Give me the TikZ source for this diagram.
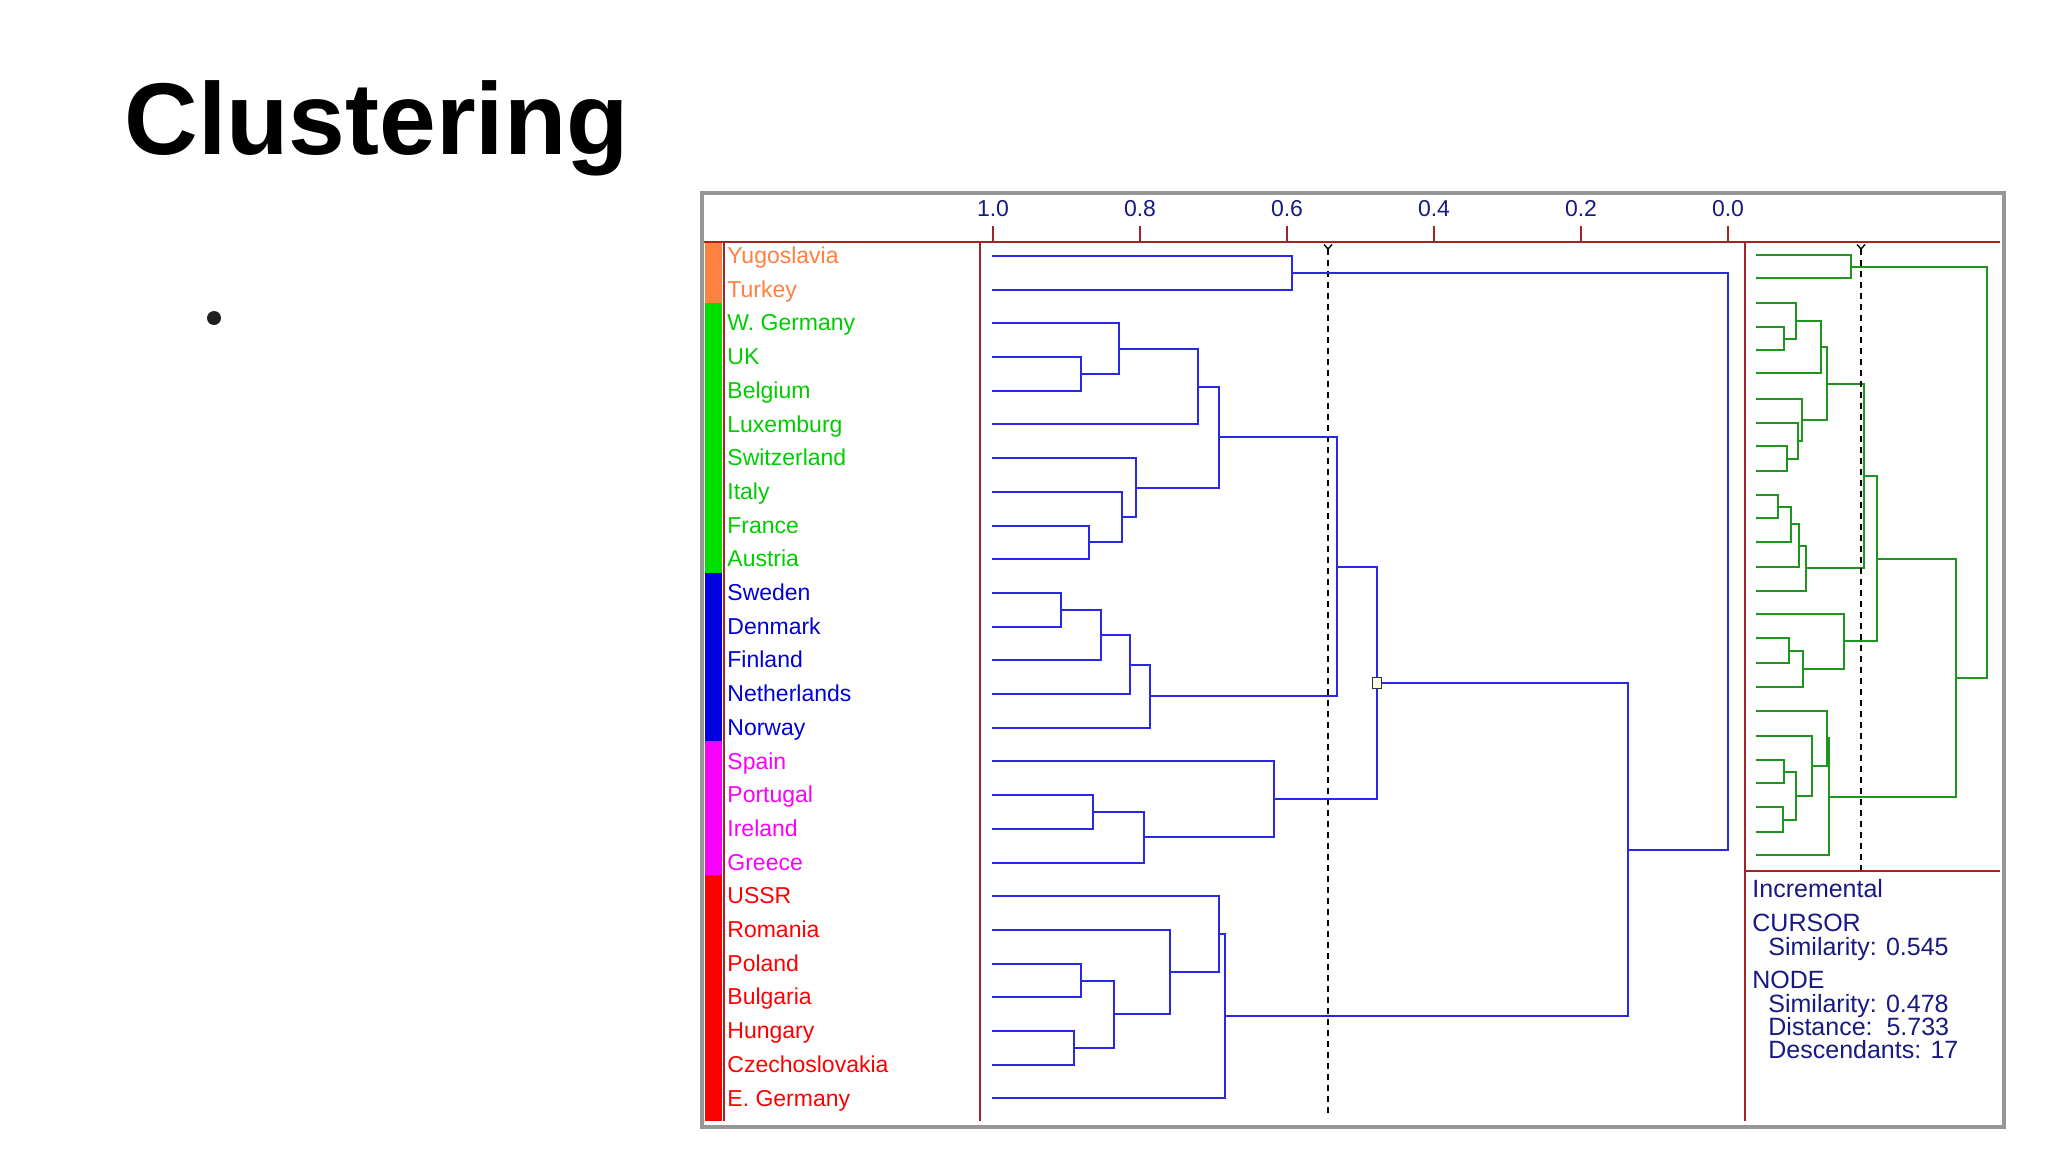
\documentclass[tikz,border=0pt]{standalone}
\usepackage{fontspec}
\setmainfont{Liberation Sans}
\definecolor{corange}{RGB}{255,128,64}
\definecolor{cgreen}{RGB}{0,205,0}
\definecolor{sgreen}{RGB}{0,222,0}
\definecolor{cblue}{RGB}{0,0,215}
\definecolor{sblue}{RGB}{0,0,225}
\definecolor{cmag}{RGB}{250,0,250}
\definecolor{cred}{RGB}{255,0,0}
\definecolor{navy}{RGB}{25,25,130}
\definecolor{dblue}{RGB}{40,40,230}
\definecolor{dgreen}{RGB}{30,150,30}
\definecolor{axred}{RGB}{165,35,35}
\definecolor{framegray}{RGB}{150,150,150}
\tikzset{
  lab/.style={anchor=base west, inner sep=0pt, font=\fontsize{11.5}{13}\selectfont},
  ticklab/.style={anchor=base, inner sep=0pt, text=navy, font=\fontsize{11.5}{13}\selectfont},
  info/.style={anchor=base west, inner sep=0pt, text=navy, font=\fontsize{12.5}{14}\selectfont},
  bl/.style={draw=dblue, line width=1pt},
  gl/.style={draw=dgreen, line width=1pt},
  redl/.style={draw=axred, line width=0.75pt},
  cur/.style={draw=black, line width=0.7pt, dash pattern=on 3pt off 2.5pt},
  curmark/.style={draw=black, line width=0.7pt},
}
\begin{document}
\begin{tikzpicture}[x=0.5pt,y=-0.5pt]
\useasboundingbox (0,0) rectangle (2048,1152);
\fill[white] (0,0) rectangle (2048,1152);

% title and bullet
\node[anchor=base west, inner sep=0pt, font=\fontsize{51}{60}\selectfont\bfseries] (title) at (124,154) {Clustering};
\node[circle, fill=black!88, minimum size=7pt, inner sep=0pt] (bullet) at (214,318) {};

% frame
\draw[draw=framegray, line width=1.75pt] (702,193) rectangle (2004,1127);

% colour strip
\fill[corange] (705,242) rectangle (722,303);
\fill[sgreen] (705,303) rectangle (722,573);
\fill[sblue] (705,573) rectangle (722,741);
\fill[cmag] (705,741) rectangle (722,875);
\fill[cred] (705,875) rectangle (722,1121);

% axis and panel lines
\draw[redl] (704,242) -- (2000,242);
\draw[redl] (724,242) -- (724,1121);
\draw[redl] (980,242) -- (980,1121);
\draw[redl] (1745,242) -- (1745,1121);
\draw[redl] (1745,871) -- (2000,871);

% ticks and tick labels
\foreach \v/\t in {1/1.0, 0.8/0.8, 0.6/0.6, 0.4/0.4, 0.2/0.2, 0/0.0} {
  \draw[redl] ({1728-735*\v},226) -- ({1728-735*\v},242);
  \node[ticklab] (tick\t) at ({1728-735*\v},216) {\t};
}

% leaf labels and leaf coordinates (left)
\foreach \i/\name/\col in {0/Yugoslavia/corange, 1/Turkey/corange,
  2/W. Germany/cgreen, 3/UK/cgreen, 4/Belgium/cgreen, 5/Luxemburg/cgreen,
  6/Switzerland/cgreen, 7/Italy/cgreen, 8/France/cgreen, 9/Austria/cgreen,
  10/Sweden/cblue, 11/Denmark/cblue, 12/Finland/cblue, 13/Netherlands/cblue, 14/Norway/cblue,
  15/Spain/cmag, 16/Portugal/cmag, 17/Ireland/cmag, 18/Greece/cmag,
  19/USSR/cred, 20/Romania/cred, 21/Poland/cred, 22/Bulgaria/cred, 23/Hungary/cred,
  24/Czechoslovakia/cred, 25/E. Germany/cred} {
  \node[lab, text=\col] (t\i) at (727,{263.5+33.7*\i}) {\name};
  \coordinate (l\i) at (992,{round(256+33.7*\i)});
}

% internal nodes (left dendrogram)
\coordinate (YT) at (1292,273);
\coordinate (W1b) at (1081,374);
\coordinate (W1a) at (1119,349);
\coordinate (W1) at (1198,387);
\coordinate (W2b) at (1089,542);
\coordinate (W2a) at (1122,517);
\coordinate (W2) at (1136,488);
\coordinate (Wes) at (1219,437);
\coordinate (N3) at (1061,610);
\coordinate (N2) at (1101,635);
\coordinate (N1) at (1130,665);
\coordinate (Nor) at (1150,696);
\coordinate (B) at (1337,567);
\coordinate (S2) at (1093,812);
\coordinate (S1) at (1144,837);
\coordinate (SPG) at (1274,799);
\coordinate (A) at (1377,683);
\coordinate (E4) at (1081,981);
\coordinate (E5) at (1074,1048);
\coordinate (E3) at (1114,1014);
\coordinate (E2) at (1170,972);
\coordinate (E1) at (1219,934);
\coordinate (Eas) at (1225,1016);
\coordinate (Res) at (1628,850);
\coordinate (Root) at (1728,561);

% cursor (left)
\coordinate (c1top) at (1328,249);
\coordinate (c1bot) at (1328,1118);
\draw[cur] (c1top) -- (c1bot);
\draw[curmark] (1324,244.5) -- (c1top) -- (1332,244.5) (c1top) -- (1328,253);

\foreach \c/\p in {l0/YT, l1/YT, l3/W1b, l4/W1b, l2/W1a, W1b/W1a, W1a/W1, l5/W1,
  l8/W2b, l9/W2b, l7/W2a, W2b/W2a, l6/W2, W2a/W2, W1/Wes, W2/Wes,
  l10/N3, l11/N3, N3/N2, l12/N2, N2/N1, l13/N1, N1/Nor, l14/Nor, Wes/B, Nor/B,
  l16/S2, l17/S2, S2/S1, l18/S1, l15/SPG, S1/SPG, B/A, SPG/A,
  l21/E4, l22/E4, l23/E5, l24/E5, E4/E3, E5/E3, l20/E2, E3/E2, l19/E1, E2/E1,
  E1/Eas, l25/Eas, A/Res, Eas/Res, YT/Root, Res/Root} {
  \draw[bl] (\c) -| (\p);
}
\node[draw=black!80, fill=yellow!8, line width=0.6pt, minimum width=4.5pt, minimum height=5.5pt, inner sep=0pt] (nodemark) at (A) {};

% right mini dendrogram
\foreach \i/\y in {0/255, 1/278, 2/303, 3/327, 4/350, 5/373, 6/399, 7/423, 8/446,
  9/471, 10/495, 11/518, 12/542, 13/567, 14/591, 15/614, 16/638, 17/663, 18/687,
  19/711, 20/736, 21/760, 22/783, 23/807, 24/832, 25/855} {
  \coordinate (rl\i) at (1756,\y);
}
\coordinate (rYT) at (1851,267);
\coordinate (rW1b) at (1784,339);
\coordinate (rW1a) at (1796,321);
\coordinate (rW1) at (1821,347);
\coordinate (rW2b) at (1787,459);
\coordinate (rW2a) at (1798,441);
\coordinate (rW2) at (1802,420);
\coordinate (rWes) at (1827,384);
\coordinate (rN3) at (1778,507);
\coordinate (rN2) at (1791,524);
\coordinate (rN1) at (1799,546);
\coordinate (rNor) at (1806,568);
\coordinate (rB) at (1864,476);
\coordinate (rS2) at (1789,651);
\coordinate (rS1) at (1803,669);
\coordinate (rSPG) at (1844,641);
\coordinate (rA) at (1877,559);
\coordinate (rE4) at (1784,772);
\coordinate (rE5) at (1783,820);
\coordinate (rE3) at (1796,796);
\coordinate (rE2) at (1812,766);
\coordinate (rE1) at (1827,738);
\coordinate (rEas) at (1829,797);
\coordinate (rRes) at (1956,678);
\coordinate (rRoot) at (1987,472);

\foreach \c/\p in {l0/YT, l1/YT, l3/W1b, l4/W1b, l2/W1a, W1b/W1a, W1a/W1, l5/W1,
  l8/W2b, l9/W2b, l7/W2a, W2b/W2a, l6/W2, W2a/W2, W1/Wes, W2/Wes,
  l10/N3, l11/N3, N3/N2, l12/N2, N2/N1, l13/N1, N1/Nor, l14/Nor, Wes/B, Nor/B,
  l16/S2, l17/S2, S2/S1, l18/S1, l15/SPG, S1/SPG, B/A, SPG/A,
  l21/E4, l22/E4, l23/E5, l24/E5, E4/E3, E5/E3, l20/E2, E3/E2, l19/E1, E2/E1,
  E1/Eas, l25/Eas, A/Res, Eas/Res, YT/Root, Res/Root} {
  \draw[gl] (r\c) -| (r\p);
}

% cursor (right)
\coordinate (c2top) at (1861,249);
\coordinate (c2bot) at (1861,870);
\draw[cur] (c2top) -- (c2bot);
\draw[curmark] (1857,244.5) -- (c2top) -- (1865,244.5) (c2top) -- (1861,253);

% info text
\node[info] (inc) at (1752,897) {Incremental};
\node[info] (cursor) at (1752,931) {CURSOR};
\node[info] (csim) at (1768,955) {Similarity: 0.545};
\node[info] (nodehdr) at (1752,988) {NODE};
\node[info] (nsim) at (1768,1012) {Similarity: 0.478};
\node[info] (ndist) at (1768,1035) {Distance:\ \ 5.733};
\node[info] (ndesc) at (1768,1058) {Descendants: 17};
\end{tikzpicture}
\end{document}
